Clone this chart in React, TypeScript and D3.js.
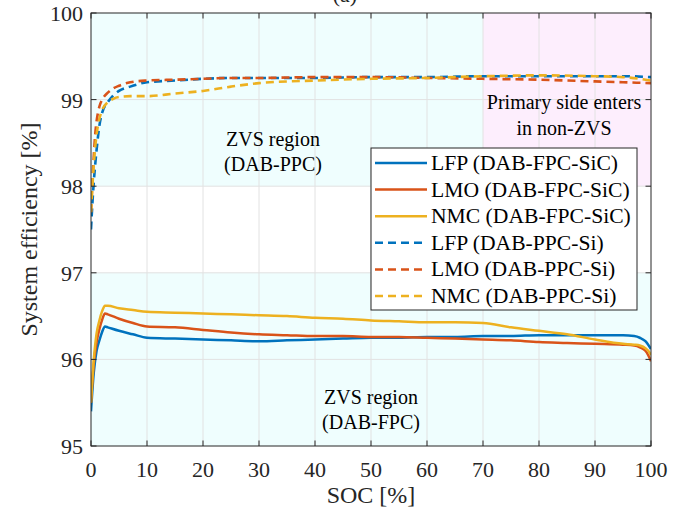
import React, { useEffect, useRef } from "react";
import * as d3 from "d3";

// SOC sample points (%)
const socSolid = [0, 0.5, 1, 1.5, 2, 2.5, 3, 5, 7.5, 10, 15, 20, 25, 30, 35, 40, 45, 50, 55, 60, 65, 70, 75, 80, 85, 90, 95, 97, 98, 99, 99.5, 100];
const socDashed = [0, 0.25, 0.5, 0.75, 1, 1.5, 2, 3, 4, 5, 7, 10, 15, 20, 25, 30, 40, 50, 60, 70, 80, 90, 95, 100];

// DAB-FPC-SiC (solid)
const lfpFpc = [95.4, 95.85, 96.1, 96.22, 96.32, 96.38, 96.37, 96.33, 96.29, 96.25, 96.24, 96.23, 96.22, 96.21, 96.22, 96.23, 96.24, 96.25, 96.25, 96.26, 96.26, 96.27, 96.27, 96.28, 96.28, 96.28, 96.28, 96.27, 96.25, 96.21, 96.17, 96.12];
const lmoFpc = [95.5, 95.95, 96.2, 96.35, 96.46, 96.53, 96.52, 96.47, 96.42, 96.38, 96.37, 96.34, 96.31, 96.29, 96.28, 96.27, 96.27, 96.26, 96.26, 96.25, 96.24, 96.23, 96.22, 96.2, 96.19, 96.18, 96.17, 96.16, 96.14, 96.1, 96.05, 95.98];
const nmcFpc = [95.5, 96.0, 96.3, 96.45, 96.56, 96.62, 96.62, 96.59, 96.57, 96.55, 96.54, 96.53, 96.52, 96.51, 96.5, 96.48, 96.47, 96.45, 96.44, 96.43, 96.43, 96.42, 96.37, 96.33, 96.29, 96.23, 96.18, 96.17, 96.16, 96.13, 96.1, 96.05];

// DAB-PPC-Si (dashed)
const lfpPpc = [97.5, 97.8, 98.05, 98.25, 98.42, 98.7, 98.85, 98.97, 99.05, 99.1, 99.15, 99.2, 99.22, 99.24, 99.25, 99.25, 99.25, 99.26, 99.26, 99.27, 99.27, 99.27, 99.27, 99.26];
const lmoPpc = [97.7, 98.05, 98.35, 98.6, 98.75, 98.92, 99.0, 99.08, 99.13, 99.16, 99.2, 99.22, 99.23, 99.24, 99.25, 99.25, 99.26, 99.26, 99.25, 99.24, 99.23, 99.21, 99.2, 99.19];
const nmcPpc = [97.7, 98.0, 98.25, 98.45, 98.6, 98.78, 98.88, 98.97, 99.01, 99.03, 99.04, 99.04, 99.07, 99.1, 99.15, 99.19, 99.22, 99.24, 99.25, 99.27, 99.28, 99.27, 99.26, 99.22];

const xTicks = [0, 10, 20, 30, 40, 50, 60, 70, 80, 90, 100];
const yTicks = [95, 96, 97, 98, 99, 100];

const seriesNames = [
  "LFP (DAB-FPC-SiC)",
  "LMO (DAB-FPC-SiC)",
  "NMC (DAB-FPC-SiC)",
  "LFP (DAB-PPC-Si)",
  "LMO (DAB-PPC-Si)",
  "NMC (DAB-PPC-Si)",
];
const colors = ["#0072BD", "#D95319", "#EDB120"];

const W = 691;
const H = 516;
const FONT = "Liberation Serif";

const App = () => {
  const svgRef = useRef<SVGSVGElement>(null);

  useEffect(() => {
    const svg = d3.select(svgRef.current);
    svg.selectAll("*").remove();

    const m = { left: 91, right: 651, top: 13, bottom: 446 };
    const x = d3.scaleLinear().domain([0, 100]).range([m.left, m.right]);
    const y = d3.scaleLinear().domain([95, 100]).range([m.bottom, m.top]);

    svg.append("defs").append("clipPath").attr("id", "plotclip")
      .append("rect")
      .attr("x", m.left).attr("y", m.top)
      .attr("width", m.right - m.left).attr("height", m.bottom - m.top);

    // shaded regions
    const bg = svg.append("g");
    bg.append("rect")
      .attr("x", x(0)).attr("y", y(100))
      .attr("width", x(70) - x(0)).attr("height", y(98) - y(100))
      .attr("fill", "#effefe");
    bg.append("rect")
      .attr("x", x(70)).attr("y", y(100))
      .attr("width", x(100) - x(70)).attr("height", y(98) - y(100))
      .attr("fill", "#fdeefd");
    bg.append("rect")
      .attr("x", x(0)).attr("y", y(97))
      .attr("width", x(100) - x(0)).attr("height", y(95) - y(97))
      .attr("fill", "#effefe");

    // grid
    const grid = svg.append("g").attr("stroke", "#e2e2e2").attr("stroke-width", 1);
    xTicks.slice(1, -1).forEach((t) => {
      grid.append("line").attr("x1", x(t)).attr("x2", x(t)).attr("y1", m.top).attr("y2", m.bottom);
    });
    yTicks.slice(1, -1).forEach((t) => {
      grid.append("line").attr("x1", m.left).attr("x2", m.right).attr("y1", y(t)).attr("y2", y(t));
    });

    // lines
    const lineGen = (xs: number[]) =>
      d3.line<number>()
        .x((_, i) => x(xs[i]))
        .y((d) => y(d))
        .curve(d3.curveMonotoneX);

    const lines = svg.append("g").attr("clip-path", "url(#plotclip)").attr("fill", "none");
    [lfpFpc, lmoFpc, nmcFpc].forEach((vals, i) => {
      lines.append("path").attr("d", lineGen(socSolid)(vals))
        .attr("stroke", colors[i]).attr("stroke-width", 2.5);
    });
    [lfpPpc, lmoPpc, nmcPpc].forEach((vals, i) => {
      lines.append("path").attr("d", lineGen(socDashed)(vals))
        .attr("stroke", colors[i]).attr("stroke-width", 2.6)
        .attr("stroke-dasharray", "8,5");
    });

    // axes box and ticks
    const ax = svg.append("g").attr("stroke", "#262626").attr("stroke-width", 1);
    ax.append("rect")
      .attr("x", m.left).attr("y", m.top)
      .attr("width", m.right - m.left).attr("height", m.bottom - m.top)
      .attr("fill", "none");
    const tl = 5.5;
    xTicks.forEach((t) => {
      ax.append("line").attr("x1", x(t)).attr("x2", x(t)).attr("y1", m.bottom).attr("y2", m.bottom - tl);
      ax.append("line").attr("x1", x(t)).attr("x2", x(t)).attr("y1", m.top).attr("y2", m.top + tl);
    });
    yTicks.forEach((t) => {
      ax.append("line").attr("x1", m.left).attr("x2", m.left + tl).attr("y1", y(t)).attr("y2", y(t));
      ax.append("line").attr("x1", m.right).attr("x2", m.right - tl).attr("y1", y(t)).attr("y2", y(t));
    });

    const addText = (g: any, tx: number, ty: number, s: string, size: number, anchor = "middle", fill = "#262626") =>
      g.append("text")
        .attr("x", tx).attr("y", ty)
        .attr("text-anchor", anchor)
        .style("font-family", FONT)
        .style("font-size", `${size}px`)
        .attr("fill", fill)
        .text(s);

    const txt = svg.append("g");
    xTicks.forEach((t) => addText(txt, x(t), 477, String(t), 22));
    yTicks.forEach((t) => addText(txt, m.left - 8, y(t) + 8, String(t), 22, "end"));
    addText(txt, (m.left + m.right) / 2, 503, "SOC [%]", 24);
    addText(txt, 0, 0, "System efficiency [%]", 24)
      .attr("transform", `translate(37,${(m.top + m.bottom) / 2}) rotate(-90)`);
    addText(txt, 345, 2, "(a)", 22);

    // annotations
    addText(txt, 273, 146, "ZVS region", 20, "middle", "#000");
    addText(txt, 273, 171, "(DAB-PPC)", 20, "middle", "#000");
    addText(txt, 371, 404, "ZVS region", 20, "middle", "#000");
    addText(txt, 371, 429, "(DAB-FPC)", 20, "middle", "#000");
    addText(txt, 564, 109, "Primary side enters", 20, "middle", "#000");
    addText(txt, 564, 135, "in non-ZVS", 20, "middle", "#000");

    // legend
    const lg = svg.append("g");
    lg.append("rect")
      .attr("x", 371).attr("y", 148).attr("width", 266).attr("height", 162)
      .attr("fill", "#fff").attr("stroke", "#262626").attr("stroke-width", 1);
    seriesNames.forEach((name, i) => {
      const yy = 163 + i * 26.6;
      lg.append("line")
        .attr("x1", 375).attr("x2", 427).attr("y1", yy).attr("y2", yy)
        .attr("stroke", colors[i % 3]).attr("stroke-width", 2.5)
        .attr("stroke-dasharray", i >= 3 ? "8,5" : null);
      addText(lg, 431, yy + 7, name, 21.6, "start", "#000");
    });
  }, []);

  return (
    <div style={{ position: "absolute", left: 0, top: 0, width: W, height: H }}>
      <svg ref={svgRef} width={W} height={H} style={{ display: "block", background: "#fff" }}></svg>
    </div>
  );
};

export default App;
